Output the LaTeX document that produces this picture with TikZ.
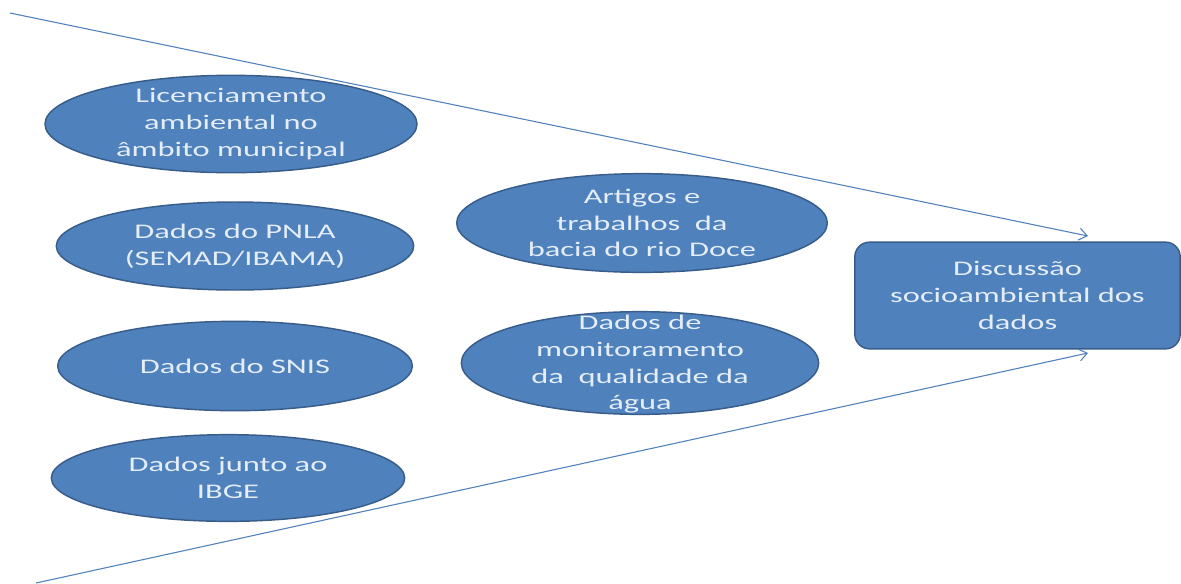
\documentclass[tikz,border=0pt]{standalone}
\usepackage{fontspec}
\newfontfamily\widefont[FakeStretch=1.56]{Carlito}
\usetikzlibrary{shapes.geometric,arrows.meta}
\definecolor{fillblue}{RGB}{79,129,189}
\definecolor{edgeblue}{RGB}{56,93,138}
\definecolor{txtwhite}{RGB}{228,237,248}
\definecolor{linecol}{RGB}{79,129,189}
\tikzset{
  oval/.style={ellipse, draw=edgeblue, line width=1.1pt, fill=fillblue, inner sep=0pt},
  txt/.style={align=center, text=txtwhite, font=\widefont\fontsize{15.6}{20}\selectfont, inner sep=0pt},
  boxnode/.style={rectangle, rounded corners=11pt, draw=edgeblue, line width=1.1pt, fill=fillblue, inner sep=0pt},
  feed/.style={draw=linecol, line width=0.8pt, -{Straight Barb[length=6pt,width=9pt]}}
}
\begin{document}
\begin{tikzpicture}[x=0.75pt,y=-0.75pt]
\useasboundingbox (0,0) rectangle (1181,583);
\fill[white] (0,0) rectangle (1181,583);
% ellipses
\node[oval, minimum width=279pt, minimum height=73pt] (e1) at (231,124) {};
\node[txt] at (e1.center) {Licenciamento\\ambiental no\\âmbito municipal};
\node[oval, minimum width=268pt, minimum height=66pt] (e2) at (235,246) {};
\node[txt] at (e2.center) {Dados do PNLA\\(SEMAD/IBAMA)};
\node[oval, minimum width=266pt, minimum height=67pt] (e3) at (235,366) {};
\node[txt] at (e3.center) {Dados do SNIS};
\node[oval, minimum width=265pt, minimum height=65pt] (e4) at (228,478) {};
\node[txt] at (e4.center) {Dados junto ao\\IBGE};
\node[oval, minimum width=278pt, minimum height=74pt] (e5) at (642,223) {};
\node[txt] at (e5.center) {Artigos e\\trabalhos\ \ da\\bacia do rio Doce};
\node[oval, minimum width=268pt, minimum height=77pt] (e6) at (640,363) {};
\node[txt] at ([yshift=-1pt]e6.center) {Dados de\\monitoramento\\da\ \ qualidade da\\água};
% box
\node[boxnode, minimum width=244pt, minimum height=80pt] (box) at (1017.5,295.5) {};
\node[txt] at (box.center) {Discussão\\socioambiental dos\\dados};
% arrows
\coordinate (t0) at (10,13);
\coordinate (t1) at (1088,236);
\coordinate (b0) at (36,583);
\coordinate (b1) at (1088,353);
\draw[feed] (t0) -- (t1);
\draw[feed] (b0) -- (b1);
\end{tikzpicture}
\end{document}
